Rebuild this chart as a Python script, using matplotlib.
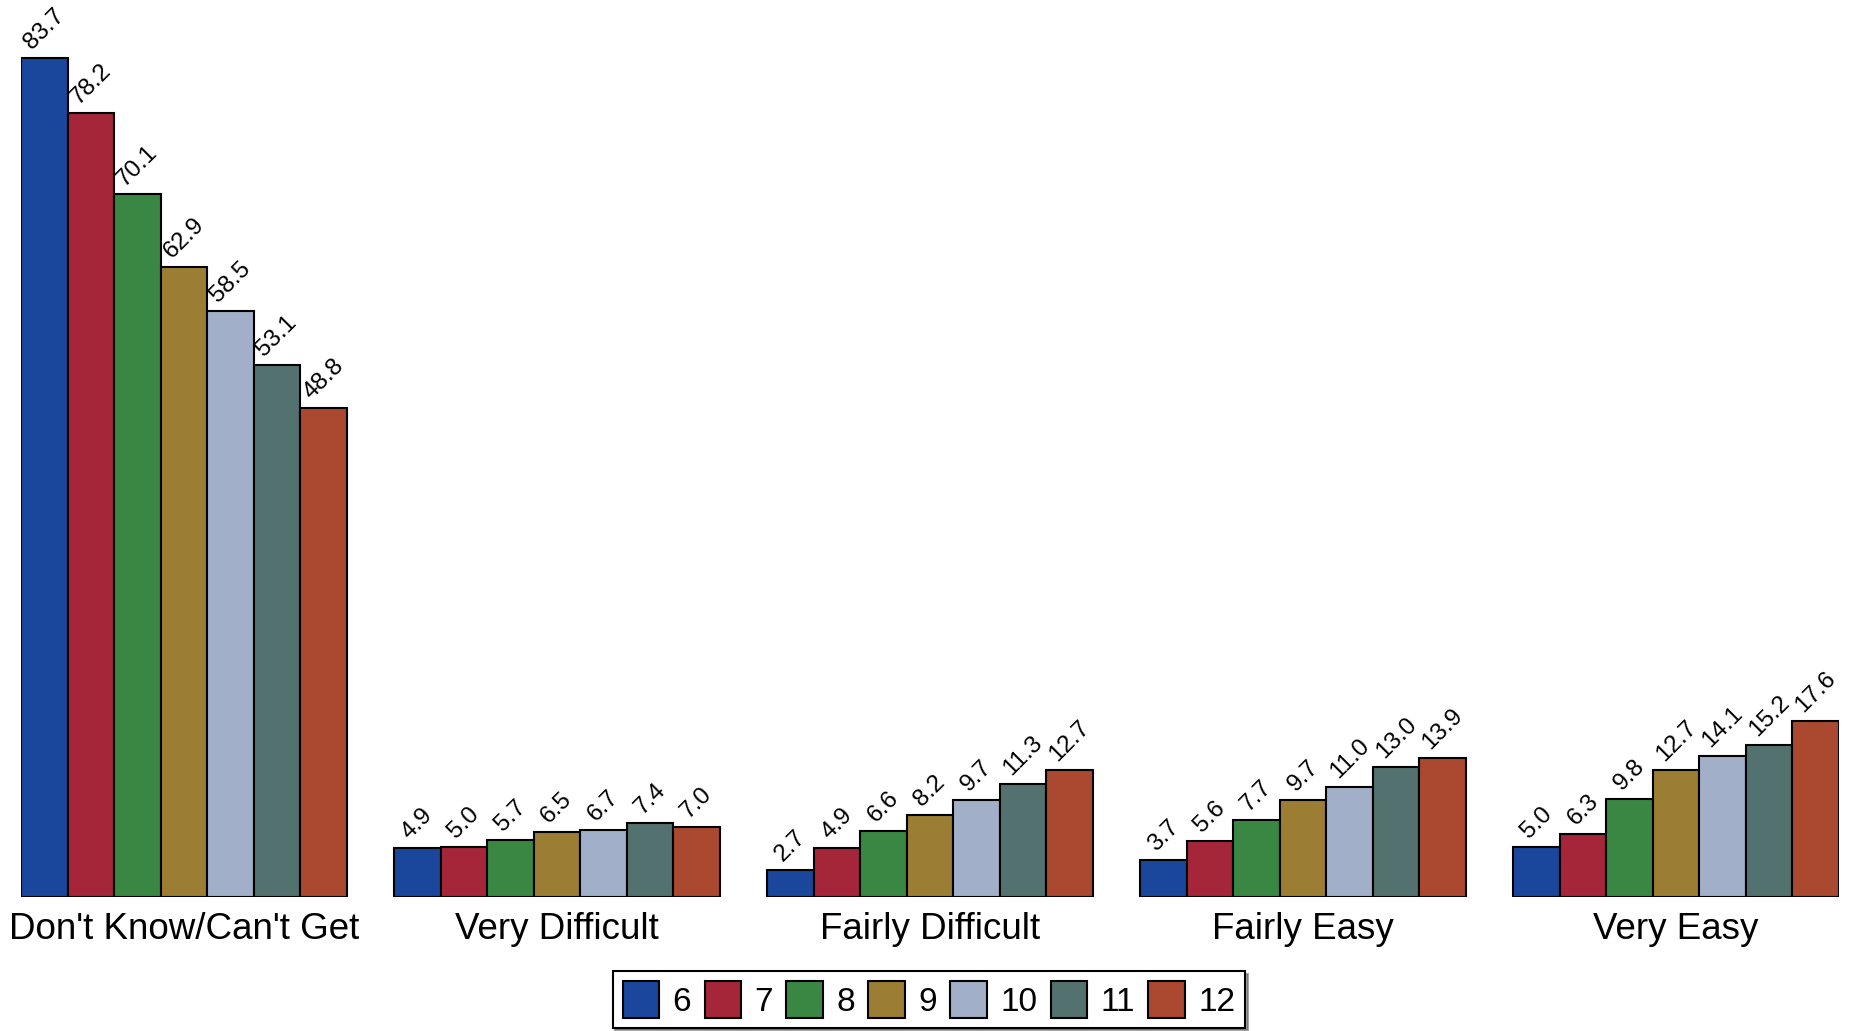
import matplotlib
matplotlib.use("Agg")
import matplotlib.pyplot as plt
import matplotlib.patches as mpatches
import numpy as np

plt.rcParams['font.family'] = ['Liberation Sans', 'DejaVu Sans']

categories = ["Don't Know/Can't Get", "Very Difficult", "Fairly Difficult", "Fairly Easy", "Very Easy"]
grades = ["6", "7", "8", "9", "10", "11", "12"]
values = {
    "6":  [83.7, 4.9, 2.7, 3.7, 5.0],
    "7":  [78.2, 5.0, 4.9, 5.6, 6.3],
    "8":  [70.1, 5.7, 6.6, 7.7, 9.8],
    "9":  [62.9, 6.5, 8.2, 9.7, 12.7],
    "10": [58.5, 6.7, 9.7, 11.0, 14.1],
    "11": [53.1, 7.4, 11.3, 13.0, 15.2],
    "12": [48.8, 7.0, 12.7, 13.9, 17.6],
}
colors = ["#1A479B", "#A42638", "#3A8743", "#9B7D33", "#A1AFC8", "#52716F", "#AA4830"]

fig = plt.figure(figsize=(18.58, 10.31), dpi=100)
ax = fig.add_axes([21/1858, 1 - 897/1031, (1839-21)/1858, 852/1031])

group_w = 275/315
w = group_w / 7
x = np.arange(len(categories))
handles = []
for i, g in enumerate(grades):
    xs = x - group_w/2 + w*(i + 0.5)
    bars = ax.bar(xs, values[g], width=w, color=colors[i], edgecolor='black', linewidth=1.5)
    handles.append(mpatches.Patch(facecolor=colors[i], edgecolor='black', linewidth=1.5, label=g))
    for xi, v in zip(xs, values[g]):
        ax.annotate(f"{v:.1f}", (xi, v), xytext=(0, 3), textcoords='offset points',
                    ha='center', va='bottom', rotation=45, fontsize=17.5, clip_on=False)

ax.set_xlim(-group_w/2, len(categories) - 1 + group_w/2)
ax.set_ylim(0, 85)
for s in ax.spines.values():
    s.set_visible(False)
ax.set_yticks([])
ax.set_xticks(x)
ax.set_xticklabels(categories, fontsize=26.5)
ax.tick_params(axis='x', length=0, pad=11)

leg = fig.legend(handles=handles, loc='lower center', bbox_to_anchor=(0.5, 0.0), ncol=7,
                 fontsize=24, frameon=True, fancybox=False, shadow=True, edgecolor='black',
                 handlelength=1.1, handleheight=1.3, handletextpad=0.4, columnspacing=0.4,
                 borderpad=0.3, borderaxespad=0.1)
leg.get_frame().set_linewidth(1.5)

fig.savefig("out.png", dpi=100)
